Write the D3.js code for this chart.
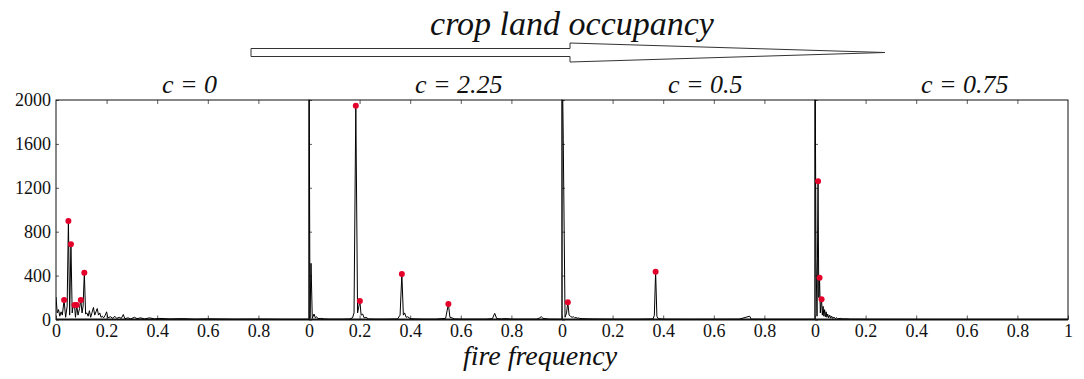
<!DOCTYPE html>
<html>
<head>
<meta charset="utf-8">
<script src="https://cdn.jsdelivr.net/npm/d3@7"></script>
<style>
  body { margin: 0; background: #fff; }
  svg { display: block; }
  text { font-family: "Liberation Serif", "DejaVu Serif", serif; fill: #111; }
</style>
</head>
<body>
<div id="chart"></div>
<script>
// panel titles (crop land occupancy c)
var panelTitles = ["c = 0", "c = 2.25", "c = 0.5", "c = 0.75"];

// spectra: [fire frequency, power]
var spec0 = [[0,205],[0.005,60],[0.01,90],[0.015,30],[0.02,70],[0.025,40],[0.032,178],[0.038,20],[0.044,120],
  [0.049,897],[0.054,40],[0.059,685],[0.064,60],[0.069,150],[0.073,132],[0.077,20],[0.082,132],[0.087,40],
  [0.093,100],[0.098,178],[0.103,60],[0.107,120],[0.112,427],[0.117,50],[0.122,60],[0.127,30],[0.132,80],
  [0.137,20],[0.142,60],[0.148,110],[0.153,40],[0.158,70],[0.163,100],[0.168,40],[0.173,60],[0.178,20],
  [0.183,30],[0.188,15],[0.195,40],[0.2,70],[0.205,15],[0.215,25],[0.225,10],[0.232,30],[0.24,10],[0.25,20],
  [0.258,10],[0.266,45],[0.272,8],[0.285,15],[0.295,5],[0.31,20],[0.32,8],[0.335,15],[0.35,5],[0.37,15],
  [0.39,5],[0.41,10],[0.45,5],[0.5,8],[0.55,3],[0.6,6],[0.7,3],[0.8,4],[0.9,2],[1.0,2]];
var spec1 = [[0,2600],[0.004,10],[0.008,512],[0.013,10],[0.02,50],[0.025,15],[0.03,25],[0.035,8],[0.045,10],
  [0.06,5],[0.08,3],[0.1,3],[0.13,3],[0.16,5],[0.172,15],[0.178,60],[0.185,1948],[0.192,60],[0.197,120],
  [0.201,168],[0.206,40],[0.212,50],[0.218,15],[0.225,20],[0.235,5],[0.26,3],[0.3,3],[0.35,5],[0.36,40],
  [0.367,414],[0.373,40],[0.378,60],[0.384,20],[0.39,25],[0.4,8],[0.42,5],[0.45,3],[0.5,3],[0.54,10],
  [0.551,141],[0.557,20],[0.565,15],[0.575,5],[0.6,3],[0.7,3],[0.725,8],[0.734,56],[0.742,8],[0.76,5],
  [0.78,8],[0.8,3],[0.9,3],[0.912,15],[0.918,26],[0.925,10],[0.95,3],[1.0,2]];
var spec2 = [[0,2600],[0.005,1642],[0.012,20],[0.018,60],[0.023,157],[0.028,40],[0.033,30],[0.04,20],
  [0.045,25],[0.05,15],[0.055,18],[0.06,12],[0.065,14],[0.07,10],[0.08,8],[0.1,6],[0.12,5],[0.15,4],
  [0.2,3],[0.3,3],[0.36,5],[0.365,40],[0.37,436],[0.375,30],[0.38,8],[0.4,3],[0.5,2],[0.7,3],[0.742,30],
  [0.748,3],[0.8,2],[1.0,2]];
var spec3 = [[0,2600],[0.004,557],[0.008,30],[0.012,1259],[0.015,200],[0.018,381],[0.021,60],[0.024,150],
  [0.026,184],[0.029,40],[0.032,120],[0.035,30],[0.038,90],[0.041,25],[0.044,70],[0.047,20],[0.05,50],
  [0.054,15],[0.058,40],[0.062,12],[0.066,30],[0.07,10],[0.075,22],[0.08,8],[0.085,16],[0.09,6],[0.1,10],
  [0.11,5],[0.12,6],[0.14,3],[0.16,3],[0.2,2],[0.5,1],[1.0,1]];
var spectra = [spec0, spec1, spec2, spec3];

// marked peaks (red dots)
var peaks0 = [[0.032,178],[0.049,897],[0.059,685],[0.073,132],[0.082,132],[0.098,178],[0.112,427]];
var peaks1 = [[0.185,1948],[0.201,168],[0.367,414],[0.551,141]];
var peaks2 = [[0.023,157],[0.37,436]];
var peaks3 = [[0.012,1259],[0.018,381],[0.026,184]];
var peaks = [peaks0, peaks1, peaks2, peaks3];

var xTicks = [0, 0.2, 0.4, 0.6, 0.8];
var xTicksLast = [0, 0.2, 0.4, 0.6, 0.8, 1];
var yTicks = [0, 400, 800, 1200, 1600, 2000];

var width = 1084, height = 379;
var marginLeft = 56, panelW = 253, plotTop = 100, plotBottom = 319.5;

var svg = d3.select("#chart").append("svg")
    .attr("width", width)
    .attr("height", height);

var y = d3.scaleLinear().domain([0, 2000]).range([plotBottom, plotTop]);

// title + arrow
svg.append("text")
    .attr("x", 572).attr("y", 35)
    .attr("text-anchor", "middle")
    .style("font-style", "italic")
    .style("font-size", "34px")
    .text("crop land occupancy");

svg.append("path")
    .attr("d", "M251,48.5L570,48.5L570,43L885,52.5L570,62L570,56.5L251,56.5Z")
    .attr("fill", "#fff")
    .attr("stroke", "#333")
    .attr("stroke-width", 1);

var line = d3.line();

panelTitles.forEach(function (t, i) {
    var x0 = marginLeft + i * panelW;
    var x = d3.scaleLinear().domain([0, 1]).range([x0, x0 + panelW]);
    var g = svg.append("g");

    svg.append("clipPath").attr("id", "clip" + i)
        .append("rect")
        .attr("x", x0).attr("y", plotTop)
        .attr("width", panelW).attr("height", plotBottom - plotTop);

    // inward ticks
    var last = i === panelTitles.length - 1;
    var xb = g.append("g").attr("transform", "translate(0," + plotBottom + ")")
        .call(d3.axisBottom(x).tickValues(last ? xTicksLast : xTicks)
            .tickSizeInner(-4).tickSizeOuter(0).tickPadding(5)
            .tickFormat(d3.format("~g")));
    xb.select(".domain").remove();
    xb.selectAll("text").attr("font-size", 18).attr("font-family", "Liberation Serif").attr("fill", "#111");

    var xt = g.append("g").attr("transform", "translate(0," + plotTop + ")")
        .call(d3.axisTop(x).tickValues([0.2, 0.4, 0.6, 0.8]).tickSizeInner(-4).tickSizeOuter(0).tickFormat(""));
    xt.select(".domain").remove();

    var ya = g.append("g").attr("transform", "translate(" + x0 + ",0)")
        .call(d3.axisLeft(y).tickValues(yTicks).tickSizeInner(-3).tickSizeOuter(0).tickPadding(5)
            .tickFormat(i === 0 ? d3.format("d") : ""));
    ya.select(".domain").remove();
    ya.selectAll("text").attr("font-size", 18).attr("font-family", "Liberation Serif").attr("fill", "#111");
    g.selectAll(".tick line").attr("stroke", "#333").attr("stroke-width", 0.8);

    // frame
    g.append("rect")
        .attr("x", x0).attr("y", plotTop)
        .attr("width", panelW).attr("height", plotBottom - plotTop)
        .attr("fill", "none").attr("stroke", "#111").attr("stroke-width", 1);
    g.append("line")
        .attr("x1", x0).attr("x2", x0 + panelW)
        .attr("y1", plotBottom).attr("y2", plotBottom)
        .attr("stroke", "#111").attr("stroke-width", 2);

    // spectrum
    line.x(function (d) { return x(d[0]); }).y(function (d) { return y(d[1]); });
    g.append("path")
        .datum(spectra[i])
        .attr("clip-path", "url(#clip" + i + ")")
        .attr("d", line)
        .attr("fill", "none")
        .attr("stroke", "#000")
        .attr("stroke-width", 1);

    g.selectAll("circle.peak")
        .data(peaks[i])
        .enter().append("circle")
        .attr("class", "peak")
        .attr("cx", function (d) { return x(d[0]); })
        .attr("cy", function (d) { return y(d[1]); })
        .attr("r", 3)
        .attr("fill", "#e4002b");

    svg.append("text")
        .attr("x", x0 + 106).attr("y", 93)
        .style("font-style", "italic")
        .style("font-size", "26px")
        .text(t);
});

svg.append("text")
    .attr("x", 540).attr("y", 365)
    .attr("text-anchor", "middle")
    .style("font-style", "italic")
    .style("font-size", "28px")
    .text("fire frequency");
</script>
</body>
</html>
